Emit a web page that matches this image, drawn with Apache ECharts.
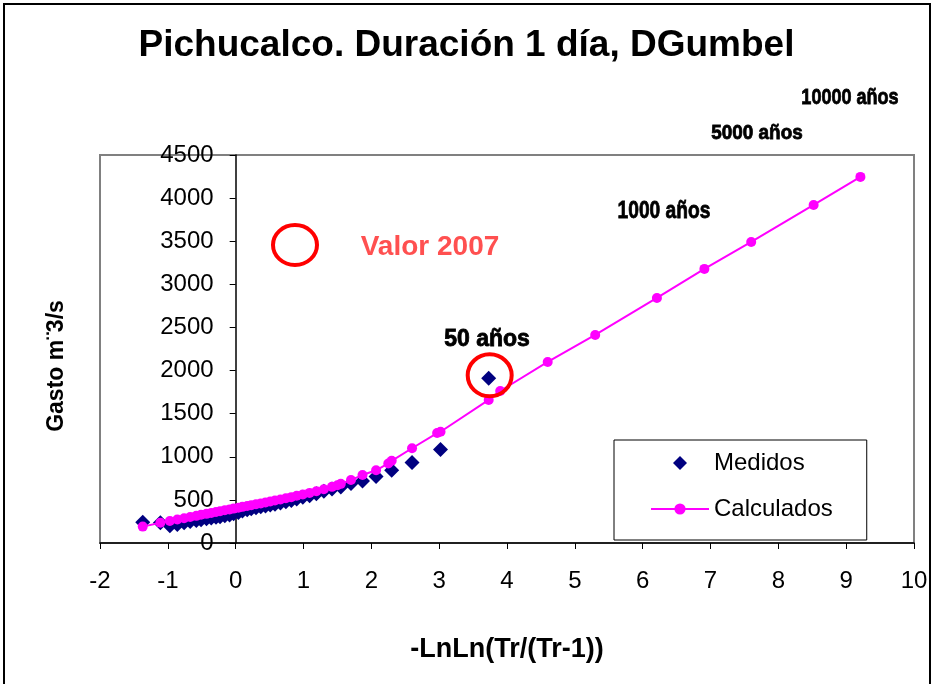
<!DOCTYPE html>
<html>
<head>
<meta charset="utf-8">
<script src="https://cdn.jsdelivr.net/npm/echarts@6/dist/echarts.min.js"></script>
<style>
  html, body { margin: 0; padding: 0; background: #fff; }
  #chart { width: 933px; height: 684px; }
</style>
</head>
<body>
<div id="chart"></div>
<script>
// measured values (plotting position, discharge)
const medX = [-1.37, -1.11, -0.97, -0.86, -0.76, -0.67, -0.58, -0.51, -0.43, -0.36, -0.29, -0.23, -0.16, -0.09, -0.03, 0.04, 0.10, 0.17, 0.23, 0.30, 0.37, 0.44, 0.51, 0.58, 0.66, 0.74, 0.82, 0.90, 0.99, 1.09, 1.19, 1.30, 1.42, 1.55, 1.70, 1.87, 2.07, 2.30, 2.60, 3.02, 3.73]
const medY = [240, 235, 200, 215, 235, 250, 262, 270, 280, 290, 300, 305, 315, 325, 340, 355, 372, 385, 398, 410, 420, 430, 440, 450, 465, 478, 492, 510, 530, 548, 570, 600, 625, 650, 690, 720, 770, 845, 935, 1085, 1910]

// fitted (DGumbel) values
const calcX = [-1.37, -1.11, -0.97, -0.86, -0.76, -0.67, -0.58, -0.51, -0.43, -0.36, -0.29, -0.23, -0.16, -0.09, -0.03, 0.04, 0.10, 0.17, 0.23, 0.30, 0.37, 0.44, 0.51, 0.58, 0.66, 0.74, 0.82, 0.90, 0.99, 1.09, 1.19, 1.30, 1.42, 1.50, 1.55, 1.70, 1.87, 2.07, 2.25, 2.30, 2.60, 2.97, 3.02, 3.73, 3.90, 4.60, 5.30, 6.21, 6.91, 7.60, 8.52, 9.21]
const calcY = [190, 235, 255, 272, 288, 302, 315, 327, 338, 349, 359, 369, 379, 389, 399, 409, 419, 429, 439, 449, 459, 470, 481, 493, 505, 518, 532, 547, 563, 581, 601, 624, 651, 670, 686, 731, 788, 843, 923, 953, 1099, 1275, 1290, 1659, 1763, 2100, 2413, 2842, 3179, 3492, 3921, 4246]

const seriesNames = ['Medidos', 'Calculados']

const FONT = 'Arial, "Liberation Sans", Helvetica, sans-serif'
const GRID_LEFT = 100

const chart = echarts.init(document.getElementById('chart'))

const annText = (text, x, y, size, sx) => ({
  type: 'text',
  x: x,
  y: y,
  scaleX: sx || 1,
  style: {
    text: text,
    fontFamily: FONT,
    fontWeight: 'bold',
    fontSize: size,
    fill: '#000',
    stroke: '#000',
    lineWidth: 0.8,
    align: 'center',
    verticalAlign: 'middle'
  },
  z: 20
})

const option = {
  animation: false,
  backgroundColor: '#fff',
  textStyle: { fontFamily: FONT },
  title: {
    text: 'Pichucalco. Duración 1 día, DGumbel',
    left: 'center',
    top: 22,
    textStyle: { fontFamily: FONT, fontSize: 37, fontWeight: 'bold', color: '#000' }
  },
  legend: {
    data: [
      { name: seriesNames[0], icon: 'path://M0,5L5,0L10,5L5,10Z' },
      { name: seriesNames[1] }
    ],
    orient: 'vertical',
    left: 614,
    top: 440,
    padding: [11, 34, 19, 36],
    itemGap: 22,
    itemWidth: 58,
    itemHeight: 14,
    symbolKeepAspect: true,
    backgroundColor: '#fff',
    borderColor: '#000',
    borderWidth: 1,
    borderRadius: 0,
    textStyle: { fontFamily: FONT, fontSize: 24, color: '#000' }
  },
  grid: {
    left: GRID_LEFT,
    top: 155,
    width: 814,
    height: 388,
    show: true,
    borderColor: '#808080',
    borderWidth: 2,
    backgroundColor: '#fff',
    outerBoundsMode: 'none',
    containLabel: false
  },
  xAxis: {
    type: 'value',
    min: -2,
    max: 10,
    interval: 1,
    name: '-LnLn(Tr/(Tr-1))',
    nameLocation: 'middle',
    nameGap: 93,
    nameTextStyle: { fontFamily: FONT, fontSize: 27, fontWeight: 'bold', color: '#000' },
    axisLine: { onZero: false, lineStyle: { color: '#000', width: 1.5 } },
    axisTick: { length: 6, lineStyle: { color: '#000' } },
    axisLabel: { fontFamily: FONT, fontSize: 24, color: '#000', margin: 26 },
    splitLine: { show: false }
  },
  yAxis: {
    type: 'value',
    min: 0,
    max: 4500,
    interval: 500,
    name: 'Gasto m¨3/s',
    nameLocation: 'middle',
    nameGap: 168,
    nameTextStyle: { fontFamily: FONT, fontSize: 23, fontWeight: 'bold', color: '#000', padding: [0, 34, 0, 0] },
    axisLine: { show: true, onZero: false, lineStyle: { color: '#000', width: 1.5 } },
    axisTick: { show: true, length: 6, lineStyle: { color: '#000' } },
    axisLabel: { fontFamily: FONT, fontSize: 24, color: '#000', margin: 22, formatter: (v) => String(v) },
    splitLine: { show: false }
  },
  series: [
    {
      name: seriesNames[0],
      type: 'scatter',
      symbol: 'diamond',
      symbolSize: 15,
      itemStyle: { color: '#000080', opacity: 1 },
      data: medX.map((x, i) => [x, medY[i]]),
      z: 2
    },
    {
      name: seriesNames[1],
      type: 'line',
      symbol: 'circle',
      symbolSize: 10,
      showSymbol: true,
      itemStyle: { color: '#FF00FF' },
      lineStyle: { color: '#FF00FF', width: 2 },
      data: calcX.map((x, i) => [x, calcY[i]]),
      z: 3
    }
  ]
}

chart.setOption(option)

// y axis crosses the x axis at 0 (Excel style), labels and ticks go with it
const zeroPx = chart.convertToPixel({ xAxisIndex: 0 }, 0)
// the 50-year ring is anchored on the largest measured point
const peakPx = chart.convertToPixel({ gridIndex: 0 }, [medX[medX.length - 1], medY[medY.length - 1]])

chart.setOption({
  yAxis: { offset: -(zeroPx - GRID_LEFT) },
  graphic: [
    {
      type: 'rect',
      shape: { x: 4, y: 4, width: 926, height: 710 },
      style: { fill: null, stroke: '#000', lineWidth: 2 },
      z: 30
    },
    {
      type: 'ellipse',
      shape: { cx: 295, cy: 245, rx: 22, ry: 20 },
      style: { fill: null, stroke: '#FF0000', lineWidth: 4 },
      z: 20
    },
    {
      type: 'text',
      x: 430,
      y: 247,
      style: {
        text: 'Valor 2007',
        fontFamily: FONT,
        fontWeight: 'bold',
        fontSize: 28,
        fill: '#FF5050',
        align: 'center',
        verticalAlign: 'middle'
      },
      z: 20
    },
    {
      type: 'ellipse',
      shape: { cx: peakPx[0] + 1, cy: peakPx[1] - 3, rx: 22, ry: 21 },
      style: { fill: null, stroke: '#FF0000', lineWidth: 4 },
      z: 20
    },
    annText('50 años', 487, 340, 23, 1),
    annText('1000 años', 664, 211, 24, 0.8),
    annText('5000 años', 757, 133, 21, 0.9),
    annText('10000 años', 850, 98, 22, 0.82)
  ]
})
</script>
</body>
</html>
